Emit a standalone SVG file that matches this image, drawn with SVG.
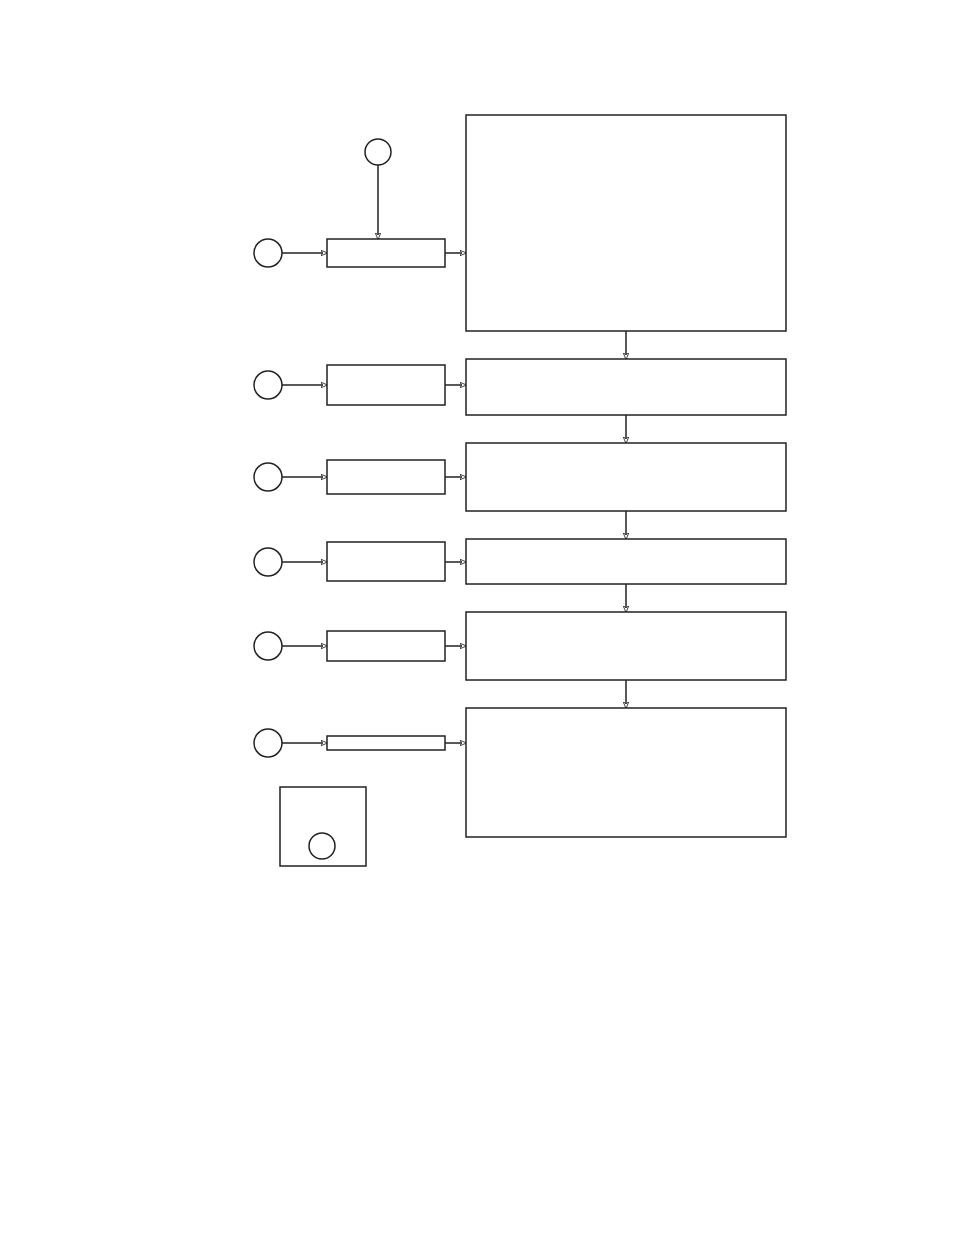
<svg xmlns="http://www.w3.org/2000/svg" width="954" height="1235" viewBox="0 0 954 1235">
<style>
.b{fill:#fff;stroke:#222;stroke-width:1.5}
.c{fill:#fff;stroke:#222;stroke-width:1.5}
.l{fill:none;stroke:#222;stroke-width:1.5}
</style>
<defs><marker id="a" viewBox="0 0 10 10" refX="9" refY="5" markerWidth="7" markerHeight="7" orient="auto" markerUnits="userSpaceOnUse"><path d="M0,1 L10,5 L0,9 L3,5 Z" fill="#fff" stroke="#222" stroke-width="1.2"/></marker></defs>
<rect width="954" height="1235" fill="#fff"/>
<g id="connectors" class="l" marker-end="url(#a)">
<path d="M378,165 V239"/>
<path d="M282,253 H327"/><path d="M445,253 H466"/>
<path d="M282,385 H327"/><path d="M445,385 H466"/>
<path d="M282,477 H327"/><path d="M445,477 H466"/>
<path d="M282,562 H327"/><path d="M445,562 H466"/>
<path d="M282,646 H327"/><path d="M445,646 H466"/>
<path d="M282,743 H327"/><path d="M445,743 H466"/>
<path d="M626,331 V359"/><path d="M626,415 V443"/><path d="M626,511 V539"/><path d="M626,584 V612"/><path d="M626,680 V708"/>
</g>
<g id="n0"><circle class="c" cx="378" cy="152" r="13"/></g>
<g id="r1"><circle class="c" cx="268" cy="253" r="14"/><rect class="b" x="327" y="239" width="118" height="28"/><rect class="b" x="466" y="115" width="320" height="216"/></g>
<g id="r2"><circle class="c" cx="268" cy="385" r="14"/><rect class="b" x="327" y="365" width="118" height="40"/><rect class="b" x="466" y="359" width="320" height="56"/></g>
<g id="r3"><circle class="c" cx="268" cy="477" r="14"/><rect class="b" x="327" y="460" width="118" height="34"/><rect class="b" x="466" y="443" width="320" height="68"/></g>
<g id="r4"><circle class="c" cx="268" cy="562" r="14"/><rect class="b" x="327" y="542" width="118" height="39"/><rect class="b" x="466" y="539" width="320" height="45"/></g>
<g id="r5"><circle class="c" cx="268" cy="646" r="14"/><rect class="b" x="327" y="631" width="118" height="30"/><rect class="b" x="466" y="612" width="320" height="68"/></g>
<g id="r6"><circle class="c" cx="268" cy="743" r="14"/><rect class="b" x="327" y="736" width="118" height="14"/><rect class="b" x="466" y="708" width="320" height="129"/></g>
<g id="legend"><rect class="b" x="280" y="787" width="86" height="79"/><circle class="c" cx="322" cy="846" r="13"/></g>
</svg>
